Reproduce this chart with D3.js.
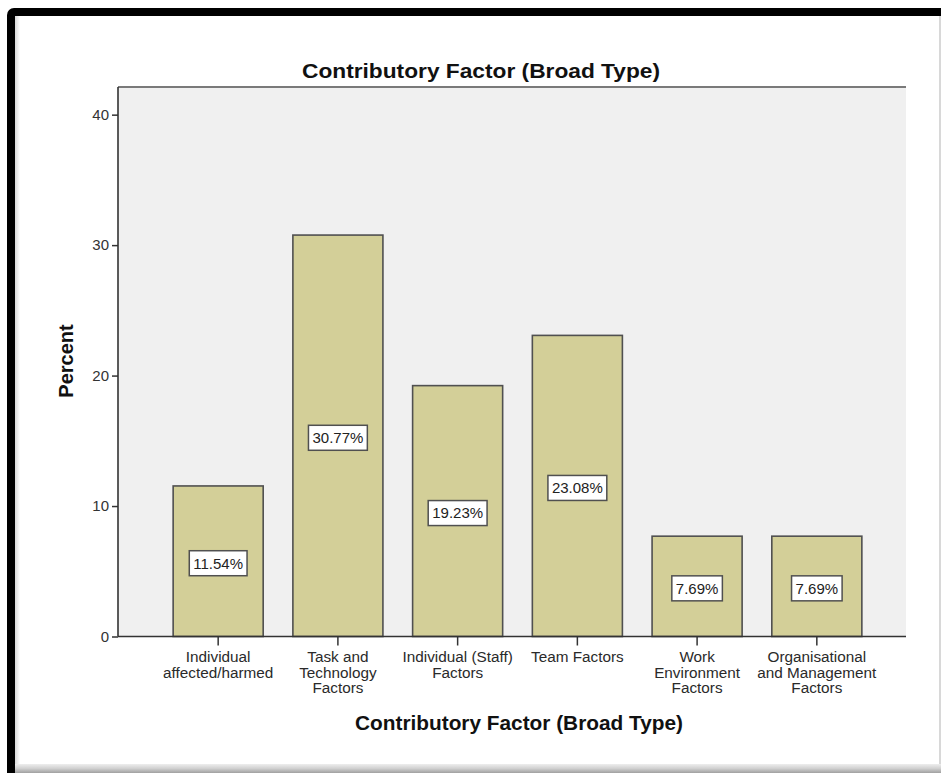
<!DOCTYPE html>
<html>
<head>
<meta charset="utf-8">
<script src="https://cdn.jsdelivr.net/npm/d3@7/dist/d3.min.js"></script>
<style>
  html, body { margin: 0; padding: 0; background: #fff; }
  svg { display: block; font-family: "Liberation Sans", Arial, sans-serif; }
</style>
</head>
<body>
<script>
// Contributory factor categories (each entry is the wrapped label lines)
const categories = [
  ["Individual", "affected/harmed"],
  ["Task and", "Technology", "Factors"],
  ["Individual (Staff)", "Factors"],
  ["Team Factors"],
  ["Work", "Environment", "Factors"],
  ["Organisational", "and Management", "Factors"]
];
// Percent of incidents per category
const percents = [11.54, 30.77, 19.23, 23.08, 7.69, 7.69];
const yTicks = [0, 10, 20, 30, 40];
const chartTitle = "Contributory Factor (Broad Type)";
const xTitle = "Contributory Factor (Broad Type)";
const yTitle = "Percent";

const W = 941, H = 773;
const svg = d3.select("body").append("svg").attr("width", W).attr("height", H);

// Framed panel: heavy black edge on left/top, soft grey edges right/bottom
const defs = svg.append("defs");
const gB = defs.append("linearGradient").attr("id", "shadeB").attr("x1", 0).attr("y1", 0).attr("x2", 0).attr("y2", 1);
gB.append("stop").attr("offset", 0).attr("stop-color", "#eeeeee");
gB.append("stop").attr("offset", 0.5).attr("stop-color", "#d0d0d0");
gB.append("stop").attr("offset", 1).attr("stop-color", "#a0a0a0");
const gL = defs.append("linearGradient").attr("id", "shadeL").attr("x1", 0).attr("y1", 0).attr("x2", 1).attr("y2", 0);
gL.append("stop").attr("offset", 0).attr("stop-color", "#d8d8d8");
gL.append("stop").attr("offset", 1).attr("stop-color", "#ffffff");

svg.append("rect").attr("x", 7).attr("y", 8).attr("width", 960).attr("height", 800).attr("rx", 7).attr("fill", "#000");
svg.append("rect").attr("x", 15).attr("y", 16).attr("width", 930).attr("height", 760).attr("fill", "#fff");
svg.append("rect").attr("x", 15).attr("y", 764).attr("width", 930).attr("height", 9).attr("fill", "url(#shadeB)");
svg.append("rect").attr("x", 15).attr("y", 16).attr("width", 5).attr("height", 748).attr("fill", "url(#shadeL)");
svg.append("rect").attr("x", 939).attr("y", 16).attr("width", 2).attr("height", 748).attr("fill", "#d8d8d8");

// Plot geometry
const plotL = 118, plotR = 906, plotT = 87, plotB = 636.5;

const y = d3.scaleLinear().domain([0, 42.12]).range([plotB, plotT]);
const x = d3.scaleBand()
  .domain(d3.range(categories.length))
  .range([158.3, 876.7])
  .paddingInner(0.248)
  .paddingOuter(0.124);

// Plot background
svg.append("rect").attr("x", plotL).attr("y", plotT).attr("width", plotR - plotL).attr("height", plotB - plotT).attr("fill", "#f0f0f0");
svg.append("line").attr("x1", plotL).attr("x2", plotR).attr("y1", plotT).attr("y2", plotT)
  .attr("stroke", "#7a7a7a").attr("stroke-width", 2);

// Bars
svg.append("g").selectAll("rect").data(percents).join("rect")
  .attr("x", (d, i) => x(i))
  .attr("y", d => y(d))
  .attr("width", x.bandwidth())
  .attr("height", d => y(0) - y(d))
  .attr("fill", "#d3cf98")
  .attr("stroke", "#505050")
  .attr("stroke-width", 1.6);

// Y axis
const yAxis = svg.append("g").attr("transform", `translate(${plotL},0)`)
  .call(d3.axisLeft(y).tickValues(yTicks).tickSize(6).tickPadding(3).tickSizeOuter(0));
yAxis.select(".domain").remove();
yAxis.selectAll(".tick line").attr("stroke", "#333").attr("stroke-width", 1.5);
yAxis.selectAll(".tick text").attr("font-size", 15).attr("fill", "#333")
  .attr("font-family", "'Liberation Sans', Arial, sans-serif");
svg.append("line").attr("x1", plotL).attr("x2", plotL).attr("y1", plotT).attr("y2", plotB)
  .attr("stroke", "#333").attr("stroke-width", 1.6);

// X axis
const xAxis = svg.append("g").attr("transform", `translate(0,${plotB})`)
  .call(d3.axisBottom(x).tickSize(9).tickSizeOuter(0).tickFormat(""));
xAxis.select(".domain").remove();
xAxis.selectAll(".tick line").attr("stroke", "#333").attr("stroke-width", 1.5);
svg.append("line").attr("x1", plotL).attr("x2", plotR).attr("y1", plotB).attr("y2", plotB)
  .attr("stroke", "#333").attr("stroke-width", 1.6);

// Category labels (multi-line)
const catG = svg.append("g");
categories.forEach((lines, i) => {
  const t = catG.append("text")
    .attr("text-anchor", "middle")
    .attr("font-size", 15.3)
    .attr("fill", "#2a2a2a")
    .attr("transform", `translate(${x(i) + x.bandwidth() / 2},0)`);
  lines.forEach((ln, k) => {
    t.append("tspan").attr("x", 0).attr("y", 662 + k * 15.6).text(ln);
  });
});

// Value labels in boxes at bar mid-height
const lab = svg.append("g").selectAll("g").data(percents).join("g")
  .attr("transform", (d, i) => `translate(${x(i) + x.bandwidth() / 2},${y(d / 2) + 2})`);
lab.append("text")
  .attr("text-anchor", "middle")
  .attr("dy", "0.36em")
  .attr("font-size", 15)
  .attr("fill", "#222")
  .text(d => d.toFixed(2) + "%");
lab.each(function () {
  const g = d3.select(this);
  const bb = g.select("text").node().getBBox();
  g.insert("rect", "text")
    .attr("x", bb.x - 4).attr("y", -12.5)
    .attr("width", bb.width + 8).attr("height", 25)
    .attr("fill", "#fff").attr("stroke", "#505050").attr("stroke-width", 1.5);
});

// Titles
svg.append("text").attr("x", 481).attr("y", 78).attr("text-anchor", "middle")
  .attr("font-size", 21).attr("font-weight", "bold").attr("fill", "#111")
  .attr("textLength", 358).attr("lengthAdjust", "spacingAndGlyphs")
  .text(chartTitle);
svg.append("text").attr("x", 519).attr("y", 730).attr("text-anchor", "middle")
  .attr("font-size", 21).attr("font-weight", "bold").attr("fill", "#111")
  .attr("textLength", 328).attr("lengthAdjust", "spacingAndGlyphs")
  .text(xTitle);
svg.append("text").attr("transform", "translate(73,361) rotate(-90)").attr("text-anchor", "middle")
  .attr("font-size", 20).attr("font-weight", "bold").attr("fill", "#111")
  .text(yTitle);
</script>
</body>
</html>
